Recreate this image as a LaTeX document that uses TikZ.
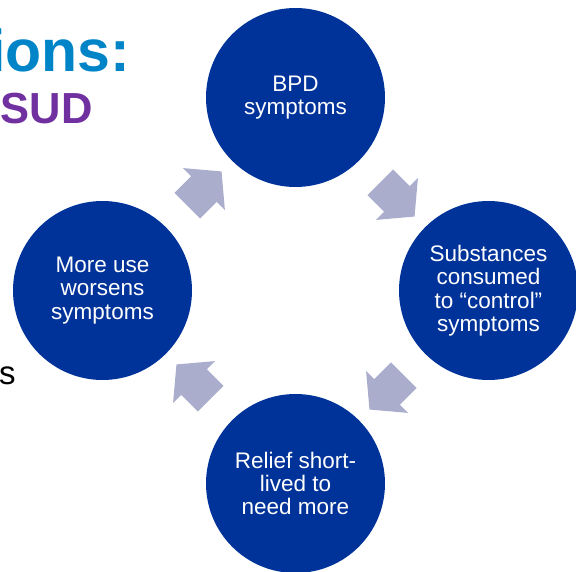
\documentclass[tikz,border=0pt]{standalone}
\usepackage{fontspec}
\setmainfont{Liberation Sans}
\usetikzlibrary{positioning, shapes.arrows, calc}
\definecolor{circleblue}{RGB}{0,51,153}
\definecolor{arrowgrey}{RGB}{170,174,204}
\definecolor{titleblue}{RGB}{0,132,200}
\definecolor{titlepurple}{RGB}{112,48,160}
\tikzset{
x=1pt, y=1pt, % coordinates in points
node distance=272.94pt, % diagonal step between two circle centres
stage/.style={circle, fill=circleblue, text=white, minimum size=179pt, inner sep=0pt, align=center, font=\fontsize{22.5}{23.4}\selectfont}, % the four blue circles
cyclearrow/.style={single arrow, fill=arrowgrey, inner sep=0pt, inner ysep=18pt, single arrow head extend=11.5pt, single arrow tip angle=100, minimum height=48.5pt}, % block arrows between circles
}

\begin{document}
\begin{tikzpicture}
    \useasboundingbox (0,0) rectangle (576,571);
    \node[anchor=base east, inner sep=0pt, text=titleblue, font=\fontsize{59}{59}\selectfont\bfseries] (title) at (130.5,499) {ions:};
    \node[anchor=base east, inner sep=0pt, text=titlepurple, font=\fontsize{43.5}{43.5}\selectfont\bfseries] (sud) at (93,447.7) {SUD};
    \node[anchor=base west, inner sep=0pt, font=\fontsize{33}{33}\selectfont] (tail) at (-1,186) {s};
    \node[stage] (bpd) at (295.5,473.5) {BPD\\symptoms};
    \node[stage, below right of=bpd] (subst) {Substances\\consumed\\to “control”\\symptoms};
    \node[stage, below left of=subst] (relief) {Relief short-\\lived to\\need more};
    \node[stage, below left of=bpd] (more) {More use\\worsens\\symptoms};
    \node[cyclearrow, rotate=45] (a1) at ($(more)!0.5!(bpd)$) {};
    \node[cyclearrow, rotate=-45] (a2) at ($(bpd)!0.5!(subst)$) {};
    \node[cyclearrow, rotate=-135] (a3) at ($(subst)!0.5!(relief)$) {};
    \node[cyclearrow, rotate=135] (a4) at ($(relief)!0.5!(more)$) {};
\end{tikzpicture}
\end{document}
